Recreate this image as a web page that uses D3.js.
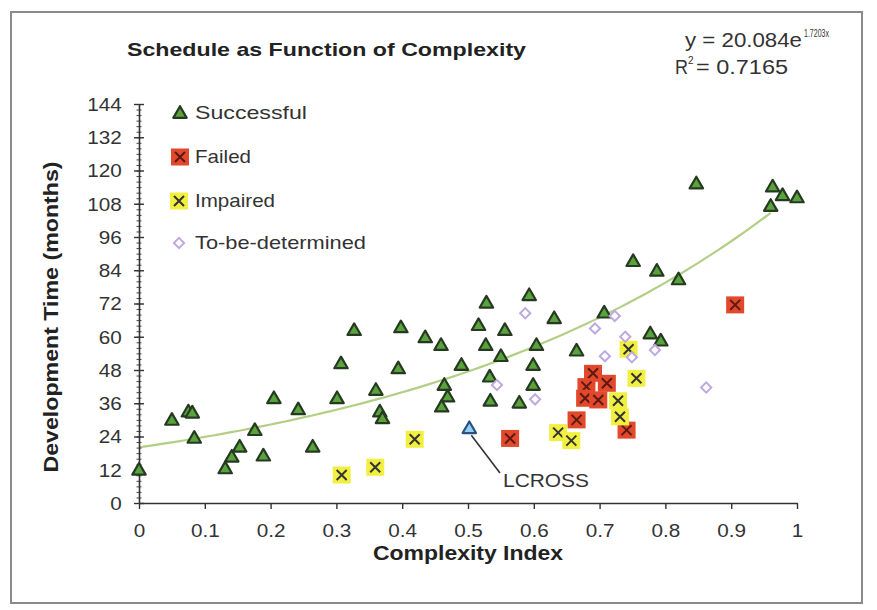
<!DOCTYPE html>
<html>
<head>
<meta charset="utf-8">
<script src="https://cdn.jsdelivr.net/npm/d3@7"></script>
<style>
  body { margin: 0; background: #fff; }
  text { font-family: "Liberation Sans", Arial, sans-serif; fill: #333; }
</style>
</head>
<body>
<div id="chart"></div>
<script>
// Successful projects
var succX = [0, 0.05, 0.075, 0.081, 0.084, 0.131, 0.141, 0.153, 0.176, 0.189, 0.205, 0.242, 0.264,
    0.301, 0.307, 0.327, 0.36, 0.366, 0.37, 0.394, 0.398, 0.435, 0.459, 0.464, 0.469, 0.46, 0.49,
    0.516, 0.528, 0.527, 0.533, 0.534, 0.55, 0.556, 0.578, 0.593, 0.599, 0.599, 0.604, 0.631, 0.665,
    0.707, 0.751, 0.787, 0.777, 0.793, 0.82, 0.847, 0.963, 0.96, 0.978, 1.0];
var succY = [12, 30, 33, 32.6, 23.5, 12.5, 16.7, 20.3, 26.3, 17.1, 37.8, 33.8, 20.3,
    37.8, 50.4, 62.4, 40.8, 33, 30.6, 48.6, 63.4, 59.8, 57, 42.6, 38.4, 34.8, 49.8,
    64.2, 72.3, 57, 45.6, 36.9, 53, 62.4, 36.2, 75, 49.8, 42.6, 57, 66.7, 55,
    68.7, 87.3, 83.8, 61.2, 58.6, 80.7, 115.3, 114.2, 107.2, 111.1, 110.3];

var failX = [0.564, 0.665, 0.69, 0.711, 0.68, 0.678, 0.698, 0.741, 0.906];
var failY = [23.3, 30, 46.8, 43.2, 42, 37.8, 37.2, 26.3, 71.5];

var impX = [0.308, 0.359, 0.419, 0.637, 0.657, 0.744, 0.756, 0.728, 0.731];
var impY = [10.1, 12.9, 23, 25.4, 22.5, 55.5, 45, 36.9, 31.1];

var tbdX = [0.544, 0.587, 0.602, 0.693, 0.708, 0.723, 0.739, 0.749, 0.784, 0.862];
var tbdY = [42.6, 68.5, 37.4, 63, 53, 67.5, 60, 52.6, 55.2, 41.7];

var lcross = {x: 0.502, y: 27, name: "LCROSS"};

// exponential trendline y = a * e^(b x)
var fitA = 20.084, fitB = 1.7203, fitR2 = "0.7165";
var fitRange = [0, 0.96];

var xTicks = [0, 0.1, 0.2, 0.3, 0.4, 0.5, 0.6, 0.7, 0.8, 0.9, 1];
var yTicks = [0, 12, 24, 36, 48, 60, 72, 84, 96, 108, 120, 132, 144];

var legendItems = ["Successful", "Failed", "Impaired", "To-be-determined"];

var W = 877, H = 610;
var SX = 1.15; // text in the picture is a bit wider than Arial

var svg = d3.select("#chart").append("svg")
    .attr("width", W).attr("height", H);

svg.append("rect")
    .attr("x", 11).attr("y", 12).attr("width", 851).attr("height", 591)
    .attr("fill", "#fff").attr("stroke", "#8a8a8a").attr("stroke-width", 2);

var x = d3.scaleLinear().domain([0, 1]).range([139, 797]);
var y = d3.scaleLinear().domain([0, 144]).range([503, 104]);

function label(str, px, py, opts) {
    opts = opts || {};
    let t = svg.append("text")
        .attr("x", px).attr("y", py)
        .attr("font-size", opts.size || 18)
        .attr("font-weight", opts.bold ? "bold" : "normal")
        .attr("text-anchor", opts.anchor || "start")
        .text(str);
    if (opts.len) {
        t.attr("textLength", opts.len).attr("lengthAdjust", "spacingAndGlyphs");
    }
    if (opts.rotate) {
        t.attr("transform", "rotate(" + opts.rotate + "," + px + "," + py + ")");
    }
    return t;
}

// title, fit equation
label("Schedule as Function of Complexity", 127, 56, {size: 19, bold: true, len: 399}).style("fill", "#222");
label("y = 20.084e", 685, 47, {size: 20, len: 117});
label(fitB.toFixed(4) + "x", 804, 37, {size: 11, len: 25});
label("R", 675, 74, {size: 20, len: 13});
label("2", 688, 64, {size: 10});
label("= " + fitR2, 696, 74, {size: 20, len: 92});

// axis titles
label("Development Time (months)", 58, 317, {size: 20, bold: true, anchor: "middle", len: 311, rotate: -90}).style("fill", "#222");
label("Complexity Index", 468, 560, {size: 20, bold: true, anchor: "middle", len: 190}).style("fill", "#222");

// trendline
var fitPts = d3.range(fitRange[0], fitRange[1] + 0.0001, 0.01);
svg.append("path")
    .datum(fitPts)
    .attr("fill", "none")
    .attr("stroke", "#b3cf86")
    .attr("stroke-width", 2.2)
    .attr("d", d3.line()
        .x(d => x(d))
        .y(d => y(fitA * Math.exp(fitB * d))));

// axes
var yMinor = svg.append("g")
    .attr("transform", "translate(" + x(0) + ",0)")
    .call(d3.axisLeft(y).tickValues(d3.range(0, 145, 2)).tickSize(2.5).tickSizeOuter(0).tickFormat(""));
yMinor.select(".domain").remove();
yMinor.selectAll(".tick line").attr("x1", 2.5).attr("stroke", "#444");

var yAxis = svg.append("g")
    .attr("transform", "translate(" + x(0) + ",0)")
    .call(d3.axisLeft(y).tickValues(yTicks).tickSize(5).tickSizeOuter(0));
yAxis.select(".domain").attr("stroke", "#333").attr("stroke-width", 1.6);
yAxis.selectAll(".tick line").attr("x1", 5).attr("stroke", "#333").attr("stroke-width", 1.4);
yAxis.selectAll(".tick text")
    .attr("font-size", 18).attr("font-family", null)
    .attr("x", -15).attr("dy", "0.36em")
    .attr("transform", "scale(" + SX + ",1)")
    .style("fill", "#333");

var xAxis = svg.append("g")
    .attr("transform", "translate(0," + y(0) + ")")
    .call(d3.axisBottom(x).tickValues(xTicks).tickSize(6).tickSizeOuter(0)
        .tickFormat(d => d === 0 || d === 1 ? d3.format("d")(d) : d3.format(".1f")(d)));
xAxis.select(".domain").attr("stroke", "#333").attr("stroke-width", 1.6);
xAxis.selectAll(".tick line").attr("stroke", "#333").attr("stroke-width", 1.4);
xAxis.selectAll(".tick text")
    .attr("font-size", 18).attr("font-family", null)
    .attr("y", 21).attr("dy", "0.71em")
    .attr("transform", "scale(" + SX + ",1)")
    .style("fill", "#333");

// marker drawing
var triangle = d3.symbol().type(d3.symbolTriangle).size(78);
var diamond = d3.symbol().type(d3.symbolSquare).size(52);

function drawSucc(g, px, py, fill, stroke) {
    g.append("path")
        .attr("transform", "translate(" + px + "," + (py + 1) + ")")
        .attr("d", triangle())
        .attr("fill", fill).attr("stroke", stroke).attr("stroke-width", 2.2)
        .attr("stroke-linejoin", "round");
}

function drawBoxX(g, px, py, fill, xcol) {
    g.append("rect")
        .attr("x", px - 9).attr("y", py - 8.5).attr("width", 18).attr("height", 17)
        .attr("fill", fill);
    g.append("path")
        .attr("d", "M" + (px - 5) + "," + (py - 5) + "L" + (px + 5) + "," + (py + 5) +
            "M" + (px + 5) + "," + (py - 5) + "L" + (px - 5) + "," + (py + 5))
        .attr("stroke", xcol).attr("stroke-width", 2);
}

function drawTbd(g, px, py) {
    g.append("path")
        .attr("transform", "translate(" + px + "," + py + ") rotate(45)")
        .attr("d", diamond())
        .attr("fill", "#fff").attr("stroke", "#bfa9e0").attr("stroke-width", 2);
}

var marks = svg.append("g");

succX.forEach(function(v, i) {
    drawSucc(marks, x(v), y(succY[i]), "#5aa23c", "#263a22");
});
failX.forEach(function(v, i) {
    drawBoxX(marks, x(v), y(failY[i]), "#e2492c", "#5a1a12");
});
impX.forEach(function(v, i) {
    drawBoxX(marks, x(v), y(impY[i]), "#f1f040", "#333");
});
tbdX.forEach(function(v, i) {
    drawTbd(marks, x(v), y(tbdY[i]));
});

// LCROSS callout
svg.append("line")
    .attr("x1", x(lcross.x) + 2).attr("y1", y(lcross.y) + 7)
    .attr("x2", 500).attr("y2", 473)
    .attr("stroke", "#333").attr("stroke-width", 1.6);
drawSucc(marks, x(lcross.x), y(lcross.y), "#8fd0f2", "#2a4f80");
label(lcross.name, 503, 487, {size: 18, len: 86});

// legend
var legY = [113, 157, 201, 243];
var leg = svg.append("g");
drawSucc(leg, 180, legY[0], "#5aa23c", "#263a22");
drawBoxX(leg, 180, legY[1], "#e2492c", "#5a1a12");
drawBoxX(leg, 179, legY[2], "#f1f040", "#333");
drawTbd(leg, 179, legY[3]);
var legLens = [112, 56, 80, 171];
legendItems.forEach(function(name, i) {
    label(name, 195, legY[i] + 6, {size: 19, len: legLens[i]});
});
</script>
</body>
</html>
